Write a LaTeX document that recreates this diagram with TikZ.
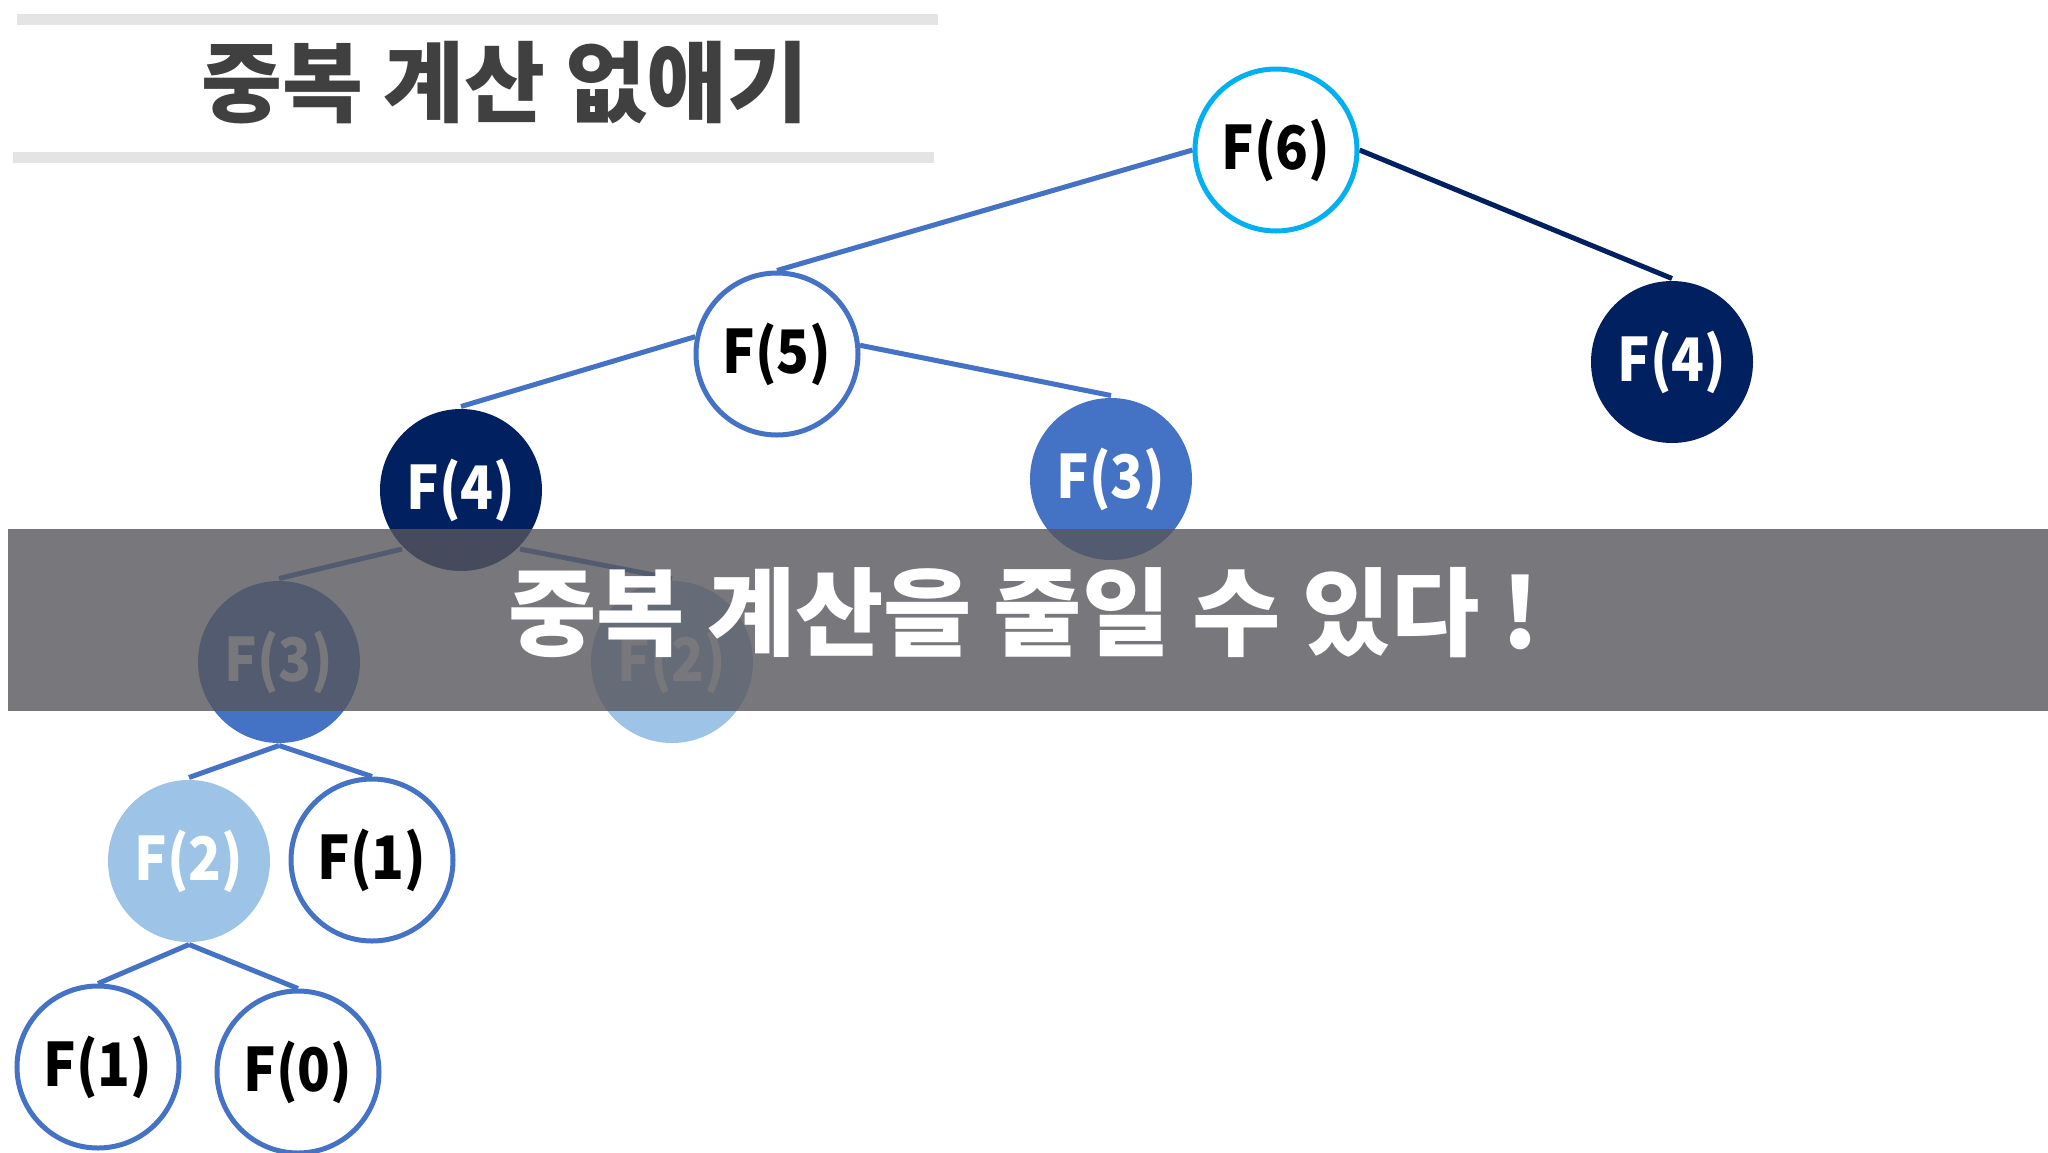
\documentclass[tikz,border=0pt]{standalone}
\usepackage{fontspec}
\usepackage{graphicx}
\newfontfamily\kr{Noto Sans CJK KR}
\definecolor{navy}{RGB}{0,32,96}
\definecolor{midblue}{RGB}{68,114,196}
\definecolor{lightblue}{RGB}{157,195,230}
\definecolor{cyanring}{RGB}{0,176,240}
\definecolor{titlegray}{RGB}{64,64,64}
\definecolor{rulegray}{RGB}{228,228,228}
\definecolor{bandgray}{RGB}{87,86,92}
\newcommand{\flabel}[1]{\scalebox{0.9}[1]{#1}}
\tikzset{
  fnode/.style={circle, inner sep=0pt, minimum size=162pt, line width=5pt,
    font=\kr\bfseries\fontsize{60}{60}\selectfont},
  whitenode/.style={fnode, draw=midblue, fill=white, text=black},
  rootnode/.style={fnode, draw=cyanring, fill=white, text=black},
  navynode/.style={fnode, fill=navy, text=white},
  bluenode/.style={fnode, fill=midblue, text=white},
  lightnode/.style={fnode, fill=lightblue, text=white},
  edge/.style={line width=5pt, draw=midblue},
  darkedge/.style={line width=5pt, draw=navy},
}
\begin{document}
\begin{tikzpicture}[x=1pt,y=-1pt]
\useasboundingbox (0,0) rectangle (2048,1152);
\fill[white] (0,0) rectangle (2048,1152);
% title rules
\fill[rulegray] (17,14) rectangle (938,25);
\fill[rulegray] (13,152) rectangle (934,163);
\node[font=\kr\bfseries\fontsize{88}{88}\selectfont, text=titlegray, inner sep=0pt] (title) at (505,83) {중복 계산 없애기};
% node positions (invisible first pass, used for anchors)
\node[fnode] (f6) at (1276,150) {};
\node[fnode] (f5) at (777,354) {};
\node[fnode] (f4r) at (1672,362) {};
\node[fnode] (f4l) at (461,490) {};
\node[fnode] (f3r) at (1111,479) {};
\node[fnode] (f3l) at (279,662) {};
\node[fnode] (f2m) at (672,662) {};
\node[fnode] (f2l) at (189,861) {};
\node[fnode] (f1m) at (372,860) {};
\node[fnode] (f1b) at (98,1067) {};
\node[fnode] (f0) at (298,1072) {};
% edges
\draw[edge] (f6.west) -- (f5.north);
\draw[darkedge] (f6.east) -- (f4r.north);
\draw[edge] (f5.168) -- (f4l.north);
\draw[edge] (f5.6) -- (f3r.north);
\draw[edge] (f4l.south west) -- (f3l.north);
\draw[edge] (f4l.south east) -- (f2m.north);
\draw[edge] (f3l.south) -- (f2l.north);
\draw[edge] (f3l.south) -- (f1m.north);
\draw[edge] (f2l.south) -- (f1b.north);
\draw[edge] (f2l.south) -- (f0.north);
% nodes drawn over edges
\node[rootnode] (n6) at (f6) {\flabel{F(6)}};
\node[whitenode] (n5) at (f5) {\flabel{F(5)}};
\node[navynode] (n4r) at (f4r) {\flabel{F(4)}};
\node[navynode] (n4l) at (f4l) {\flabel{F(4)}};
\node[bluenode] (n3r) at (f3r) {\flabel{F(3)}};
\node[bluenode] (n3l) at (f3l) {\flabel{F(3)}};
\node[lightnode] (n2m) at (f2m) {\flabel{F(2)}};
\node[lightnode] (n2l) at (f2l) {\flabel{F(2)}};
\node[whitenode] (n1m) at (f1m) {\flabel{F(1)}};
\node[whitenode] (n1b) at (f1b) {\flabel{F(1)}};
\node[whitenode] (n0) at (f0) {\flabel{F(0)}};
% overlay band
\fill[bandgray, fill opacity=0.8] (8,529) rectangle (2048,711);
\node[font=\kr\bfseries\fontsize{96}{96}\selectfont, text=white, inner sep=0pt] (msg) at (1024,613) {중복 계산을 줄일 수 있다 !};
\end{tikzpicture}
\end{document}
